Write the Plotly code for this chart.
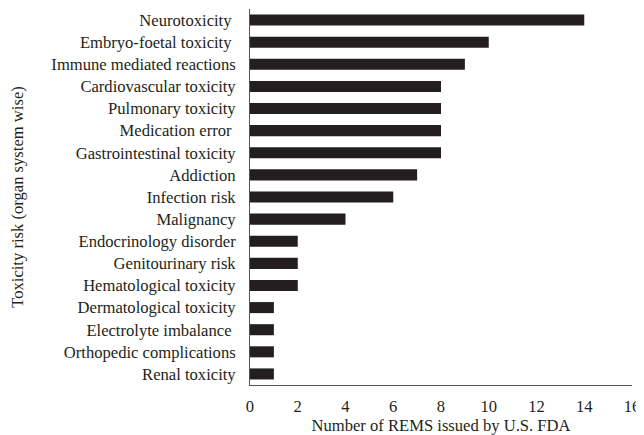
import plotly.graph_objects as go

categories = ["Neurotoxicity ", "Embryo-foetal toxicity ", "Immune mediated reactions",
              "Cardiovascular toxicity", "Pulmonary toxicity", "Medication error ",
              "Gastrointestinal toxicity", "Addiction", "Infection risk", "Malignancy",
              "Endocrinology disorder", "Genitourinary risk", "Hematological toxicity",
              "Dermatological toxicity", "Electrolyte imbalance ", "Orthopedic complications",
              "Renal toxicity"]
values = [14, 10, 9, 8, 8, 8, 8, 7, 6, 4, 2, 2, 2, 1, 1, 1, 1]
x_ticks = [0, 2, 4, 6, 8, 10, 12, 14, 16]

font = "Liberation Serif, Times New Roman, serif"

fig = go.Figure(go.Bar(
    x=values, y=categories, orientation="h",
    marker=dict(color="#231f20", line=dict(width=0)),
    width=0.5,
))
fig.update_layout(
    width=636, height=427,
    margin=dict(l=242, r=12, t=1, b=50),
    paper_bgcolor="white", plot_bgcolor="white",
    font=dict(family=font, size=16.6, color="#231f20"),
    showlegend=False,
    bargap=0.5,
)
fig.update_xaxes(
    range=[0, 16], tickvals=x_ticks, showgrid=False, zeroline=False,
    showline=True, linecolor="#555555", linewidth=1, ticks="",
    automargin=False, ticklabelstandoff=6,
    title=dict(text="Number of REMS issued by U.S. FDA", font=dict(size=16.6), standoff=6),
)
fig.update_yaxes(
    autorange="reversed", showgrid=False, zeroline=False,
    showline=True, linecolor="#555555", linewidth=1, ticks="",
    automargin=False, ticklabelstandoff=10,
    title=dict(text="Toxicity risk (organ system wise)", font=dict(size=16.6), standoff=35),
)
fig.write_html("out.html")
